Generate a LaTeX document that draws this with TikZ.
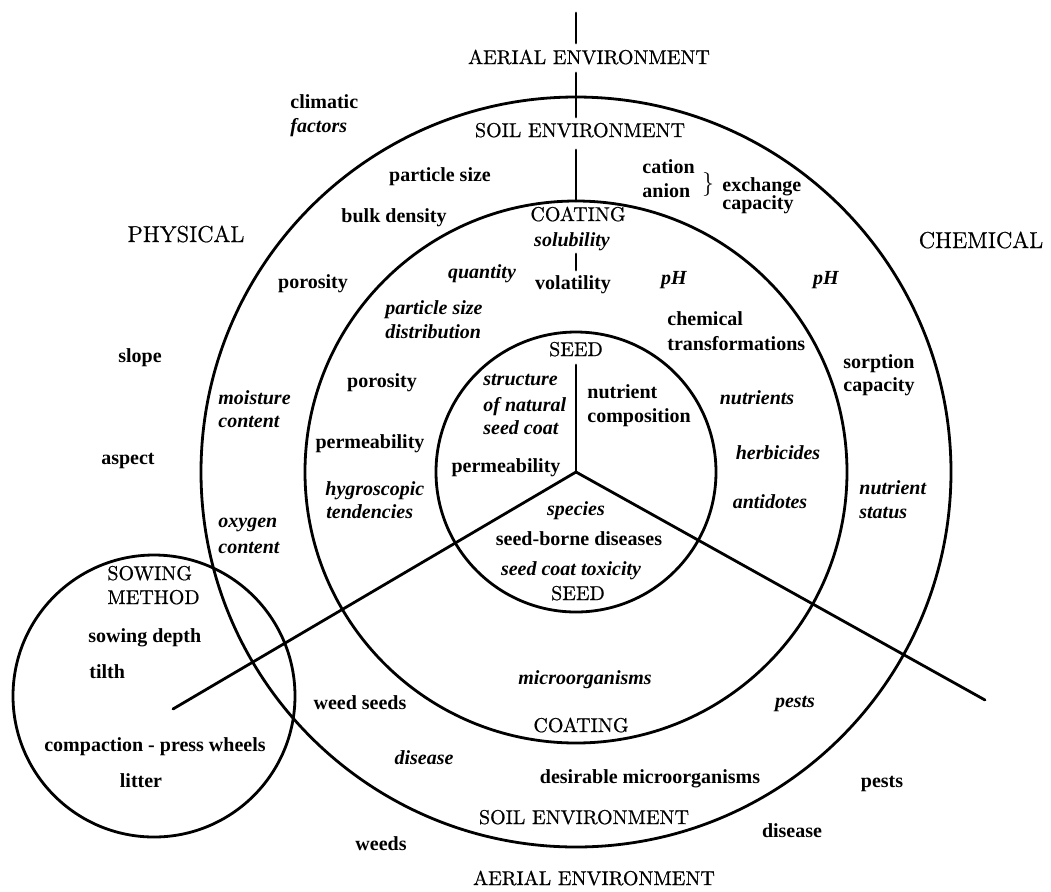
\documentclass[tikz,border=0pt]{standalone}
\usepackage{fontspec}
\newfontfamily\labfont{Liberation Serif}
\newfontfamily\capfont{Latin Modern Roman}[FakeBold=0.7]
\tikzset{
  ring/.style={draw, circle, line width=1.4pt, inner sep=0pt, outer sep=0pt},
  rule/.style={line width=1.4pt, line cap=round},
  capl/.style={inner sep=0pt, font=\capfont\fontsize{10}{12}\selectfont, text height=6.5pt, text depth=1.5pt},
  bigl/.style={inner sep=0pt, font=\capfont\fontsize{11.5}{13}\selectfont, text height=7.5pt, text depth=1.5pt},
  up/.style={inner sep=0pt, font=\labfont\bfseries\fontsize{10}{12}\selectfont, text height=6.5pt, text depth=1.5pt},
  ital/.style={inner sep=0pt, font=\labfont\bfseries\itshape\fontsize{10}{12}\selectfont, text height=6.5pt, text depth=1.5pt},
}
\begin{document}
\begin{tikzpicture}[x=0.5pt,y=-0.5pt]
\fill[white] (0,0) rectangle (1051,891);
\useasboundingbox (0,0) rectangle (1051,891);

% circles
\coordinate (C) at (576,472);
\node[ring, minimum size=375pt] (outerc) at (C) {};
\node[ring, minimum size=271pt] (coatc) at (C) {};
\node[ring, minimum size=140pt] (seedc) at (C) {};
\node[ring, minimum size=141pt] (sowc) at (154,696) {};

% spokes
\coordinate (Lend) at (173,709);
\coordinate (Rend) at (985,700);
\draw[rule] (C) -- (Lend);
\draw[rule] (C) -- (Rend);

% vertical line segments
\coordinate (v0a) at (576,13);  \coordinate (v0b) at (576,43);
\coordinate (v1a) at (576,73);  \coordinate (v1b) at (576,117);
\coordinate (v2a) at (576,150);
\coordinate (v3a) at (576,254); \coordinate (v3b) at (576,270);
\coordinate (v4a) at (576,365);
\draw[rule] (v0a) -- (v0b);
\draw[rule] (v1a) -- (v1b);
\draw[rule] (v2a) -- (coatc.north);
\draw[rule] (v3a) -- (v3b);
\draw[rule] (v4a) -- (C);

% capital labels
\node[capl] (aerT) at (589,59) {AERIAL ENVIRONMENT};
\node[capl] (soilT) at (580,132) {SOIL ENVIRONMENT};
\node[capl] (coatT) at (578,216) {COATING};
\node[capl] (seedT) at (576,351) {SEED};
\node[capl] (seedB) at (578,595) {SEED};
\node[capl] (coatB) at (581,727) {COATING};
\node[capl] (soilB) at (584,819) {SOIL ENVIRONMENT};
\node[capl] (aerB) at (594,880) {AERIAL ENVIRONMENT};
\node[bigl] (phys) at (186,236) {PHYSICAL};
\node[bigl] (chem) at (981,242) {CHEMICAL};
\node[capl, anchor=west] (sow1) at (107,575) {SOWING};
\node[capl, anchor=west] (sow2) at (107,599) {METHOD};

% outer (physical) labels
\node[up, anchor=west] (clim1) at (290,103) {climatic};
\node[ital, anchor=west] (clim2) at (290,127) {factors};
\node[up] (slope) at (140,357) {slope};
\node[up] (aspect) at (128,459) {aspect};

% soil ring, upper
\node[up] (psize) at (440,176) {particle size};
\node[up] (bulk) at (394,217) {bulk density};
\node[up] (poro1) at (313,283) {porosity};
\node[ital, anchor=west] (moist1) at (218,399) {moisture};
\node[ital, anchor=west] (moist2) at (218,422) {content};
\node[ital, anchor=west] (oxy1) at (218,522) {oxygen};
\node[ital, anchor=west] (oxy2) at (218,548) {content};
\node[up, anchor=west] (cat) at (642,168) {cation};
\node[up, anchor=west] (ani) at (642,192) {anion};
\node[inner sep=0pt, font=\fontsize{13}{15}\selectfont] (brace) at (708,184) {$\}$};
\node[up, anchor=west] (exch1) at (722,186) {exchange};
\node[up, anchor=west] (exch2) at (722,204) {capacity};
\node[ital] (ph2) at (826,279) {pH};
\node[up, anchor=west] (sorp1) at (843,363) {sorption};
\node[up, anchor=west] (sorp2) at (843,386) {capacity};
\node[ital, anchor=west] (nst1) at (859,489) {nutrient};
\node[ital, anchor=west] (nst2) at (859,513) {status};

% coating ring
\node[ital] (solub) at (572,241) {solubility};
\node[up] (volat) at (573,284) {volatility};
\node[ital] (quant) at (482,273) {quantity};
\node[ital, anchor=west] (psd1) at (385,309) {particle size};
\node[ital, anchor=west] (psd2) at (385,333) {distribution};
\node[up] (poro2) at (382,382) {porosity};
\node[up] (perm2) at (370,443) {permeability};
\node[ital, anchor=west] (hyg1) at (325,490) {hygroscopic};
\node[ital, anchor=west] (hyg2) at (326,513) {tendencies};
\node[ital] (ph1) at (674,279) {pH};
\node[up, anchor=west] (chtr1) at (667,320) {chemical};
\node[up, anchor=west] (chtr2) at (667,345) {transformations};
\node[ital] (nutr) at (757,399) {nutrients};
\node[ital] (herb) at (778,454) {herbicides};
\node[ital] (anti) at (770,503) {antidotes};
\node[ital] (micro) at (585,679) {microorganisms};

% seed
\node[ital, anchor=west] (str1) at (483,380) {structure};
\node[ital, anchor=west] (str2) at (483,406) {of natural};
\node[ital, anchor=west] (str3) at (483,429) {seed coat};
\node[up, anchor=west] (nc1) at (587,393) {nutrient};
\node[up, anchor=west] (nc2) at (587,417) {composition};
\node[up] (perm3) at (506,467) {permeability};
\node[ital] (spec) at (576,510) {species};
\node[up] (sbd) at (579,540) {seed-borne diseases};
\node[ital] (sct) at (571,570) {seed coat toxicity};

% soil ring, lower
\node[up] (weedsd) at (360,704) {weed seeds};
\node[ital] (dis1) at (424,759) {disease};
\node[up] (desm) at (650,778) {desirable microorganisms};
\node[ital] (pest1) at (795,702) {pests};

% outside lower
\node[up] (weeds) at (381,845) {weeds};
\node[up] (pest2) at (882,782) {pests};
\node[up] (dis2) at (792,832) {disease};

% sowing method
\node[up, anchor=west] (sdep) at (88,637) {sowing depth};
\node[up, anchor=west] (tilth) at (89,673) {tilth};
\node[up] (comp) at (155,746) {compaction - press wheels};
\node[up] (litter) at (141,782) {litter};
\end{tikzpicture}
\end{document}
